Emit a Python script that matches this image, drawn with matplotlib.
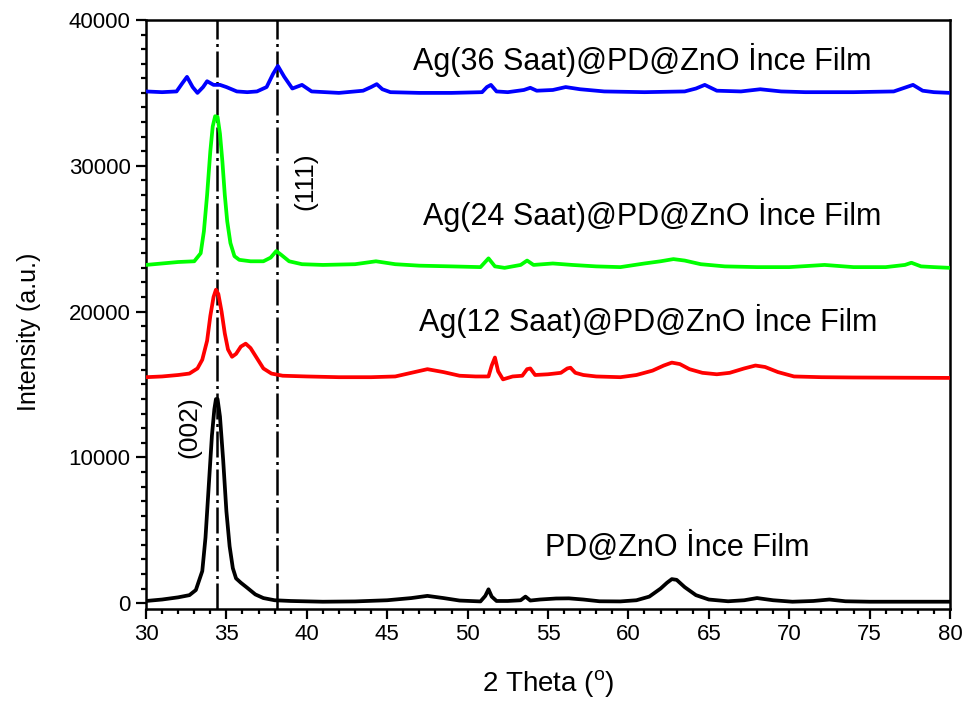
import matplotlib
matplotlib.use("Agg")
import matplotlib.pyplot as plt
from matplotlib.ticker import MultipleLocator

plt.rcParams['font.family'] = ['Liberation Sans', 'DejaVu Sans']
plt.rcParams['mathtext.fontset'] = 'custom'
plt.rcParams['mathtext.rm'] = 'Liberation Sans'

# ---- data ----
x_pd = [30, 31, 32, 32.7, 33.1, 33.5, 33.7, 33.9, 34.1, 34.25, 34.35, 34.45, 34.6, 34.8, 35.0, 35.2, 35.4,
        35.6, 35.9, 36.3, 36.8, 37.3, 38.0, 39, 41, 43, 45, 46.5, 47.5, 48.5, 49.5, 50.8, 51.1, 51.3, 51.5,
        51.8, 52.5, 53.3, 53.6, 53.9, 54.5, 55.5, 56.3, 57.2, 58.2, 59.5, 60.5, 61.3, 62.0, 62.4, 62.7,
        63.0, 63.5, 64.2, 65.0, 66.2, 67.2, 68.0, 69.0, 70.2, 71.5, 72.5, 73.5, 75, 77, 80]
y_pd = [150, 250, 400, 550, 900, 2200, 4500, 8000, 11500, 13300, 14000, 14000, 12800, 9800, 6300, 3900, 2400,
        1700, 1400, 1050, 600, 350, 200, 150, 100, 120, 200, 350, 500, 350, 180, 120, 500, 950, 450,
        150, 150, 200, 450, 180, 250, 320, 330, 250, 130, 120, 200, 450, 1000, 1400, 1650,
        1600, 1100, 550, 250, 130, 200, 350, 200, 100, 150, 250, 130, 100, 100, 100]

x_12 = [30, 31, 32, 32.7, 33.2, 33.5, 33.8, 34.0, 34.2, 34.35, 34.5, 34.7, 34.9, 35.1, 35.35, 35.6, 35.9,
        36.2, 36.5, 36.9, 37.3, 37.8, 38.5, 40, 42, 44, 45.5, 46.5, 47.5, 48.5, 49.5, 50.5, 51.3, 51.5,
        51.7, 51.9, 52.2, 52.8, 53.4, 53.7, 53.9, 54.2, 55.0, 55.8, 56.2, 56.4, 56.7, 57.2, 58.0, 59.5,
        60.5, 61.5, 62.2, 62.7, 63.2, 63.8, 64.6, 65.5, 66.3, 67.2, 67.9, 68.5, 69.3, 70.3, 72, 74, 76,
        78, 80]
y_12 = [15500, 15550, 15650, 15750, 16100, 16700, 18000, 19700, 21000, 21500, 21200, 20000, 18500, 17400,
        16900, 17100, 17600, 17800, 17500, 16800, 16100, 15750, 15600, 15550, 15500, 15500, 15550, 15800,
        16050, 15850, 15600, 15550, 15550, 16300, 16850, 15900, 15350, 15550, 15600, 16050, 16100, 15650,
        15700, 15800, 16100, 16150, 15800, 15650, 15550, 15500, 15650, 15950, 16300, 16500, 16400, 16050,
        15800, 15700, 15800, 16100, 16300, 16200, 15850, 15550, 15500, 15480, 15470, 15460, 15450]

x_24 = [30, 31, 32, 33, 33.4, 33.6, 33.8, 34.0, 34.15, 34.3, 34.45, 34.6, 34.75, 34.9, 35.05, 35.25,
        35.5, 35.8, 36.5, 37.3, 37.75, 38.1, 38.4, 38.9, 39.7, 41, 43, 44.3, 45.5, 47, 49, 50.8, 51.3,
        51.7, 52.3, 53.3, 53.7, 54.1, 55.3, 56.5, 58, 59.5, 61, 62, 62.8, 63.5, 64.5, 66, 68, 70, 72.2,
        74, 76, 77.2, 77.6, 78.2, 79, 80]
y_24 = [23200, 23300, 23400, 23450, 24000, 25500, 28000, 31000, 32700, 33400, 33350, 32200, 30300, 28000,
        26200, 24700, 23800, 23550, 23450, 23450, 23700, 24150, 23900, 23450, 23250, 23200, 23250, 23450,
        23250, 23150, 23100, 23050, 23650, 23100, 23000, 23200, 23500, 23200, 23300, 23200, 23100, 23050,
        23300, 23450, 23600, 23500, 23250, 23100, 23050, 23050, 23200, 23050, 23050, 23200, 23350, 23100,
        23050, 23000]

x_36 = [30, 31, 31.9, 32.25, 32.55, 32.9, 33.2, 33.55, 33.8, 34.2, 34.6, 35.0, 35.65, 36.3, 36.9, 37.5,
        37.9, 38.2, 38.6, 39.1, 39.7, 40.3, 42, 43.5, 44.0, 44.35, 44.7, 45.2, 47, 49, 50.9, 51.2, 51.45,
        51.8, 52.5, 53.5, 53.9, 54.3, 55.3, 56.1, 57.0, 58.5, 61, 63.5, 64.2, 64.75, 65.5, 67, 68.2, 69.5,
        71, 74, 76.5, 77.3, 77.7, 78.3, 79, 80]
y_36 = [35100, 35050, 35100, 35650, 36100, 35400, 35000, 35400, 35800, 35550, 35550, 35400, 35100, 35050,
        35100, 35400, 36300, 36850, 36100, 35300, 35550, 35100, 35000, 35150, 35400, 35600, 35250, 35050,
        35000, 35000, 35050, 35400, 35550, 35100, 35050, 35200, 35350, 35150, 35200, 35400, 35250, 35100,
        35050, 35100, 35300, 35550, 35150, 35100, 35250, 35100, 35050, 35050, 35100, 35400, 35550, 35150,
        35050, 35000]

labels = ["PD@ZnO İnce Film", "Ag(12 Saat)@PD@ZnO İnce Film",
          "Ag(24 Saat)@PD@ZnO İnce Film", "Ag(36 Saat)@PD@ZnO İnce Film"]
peak_lines = [34.4, 38.15]
peak_labels = ["(002)", "(111)"]

# ---- figure ----
fig = plt.figure(figsize=(9.68, 7.09), dpi=100)
ax = fig.add_axes([146/968, 1-609/709, (950-146)/968, (609-20)/709])

for xv in peak_lines:
    ax.axvline(xv, color='black', lw=1.8, linestyle=(0, (10.4, 1.8, 1.2, 1.8)), zorder=1)

lw = 2.7
ax.plot(x_pd, y_pd, color='black', lw=lw, zorder=3)
ax.plot(x_12, y_12, color='#ff0000', lw=lw, zorder=3)
ax.plot(x_24, y_24, color='#00ff00', lw=lw, zorder=3)
ax.plot(x_36, y_36, color='#0000ff', lw=lw, zorder=3)

fs_ann = 22
ax.text(54.8, 3840, labels[0], fontsize=fs_ann, ha='left', va='center')
ax.text(47.0, 19340, labels[1], fontsize=fs_ann, ha='left', va='center')
ax.text(47.2, 26610, labels[2], fontsize=fs_ann, ha='left', va='center')
ax.text(46.6, 37240, labels[3], fontsize=fs_ann, ha='left', va='center')
ax.text(32.7, 12070, peak_labels[0], fontsize=19, rotation=90, ha='center', va='center')
ax.text(39.9, 28940, peak_labels[1], fontsize=19, rotation=90, ha='center', va='center')

ax.set_xlim(30, 80)
ax.set_ylim(-400, 40000)
ax.xaxis.set_major_locator(MultipleLocator(5))
ax.xaxis.set_minor_locator(MultipleLocator(1))
ax.yaxis.set_major_locator(MultipleLocator(10000))
ax.yaxis.set_minor_locator(MultipleLocator(1000))
ax.tick_params(which='both', direction='out', width=1.6, top=False, right=False)
ax.tick_params(which='major', length=7, labelsize=16, pad=4)
ax.tick_params(which='minor', length=3.5)
for s in ax.spines.values():
    s.set_linewidth(1.8)

ax.set_xlabel('2 Theta ($^{\\rm o}$)', fontsize=20)
ax.set_ylabel('Intensity (a.u.)', fontsize=18)
ax.yaxis.set_label_coords(-0.13, 0.47)
ax.xaxis.set_label_coords(0.5, -0.1)

fig.savefig('out.png', dpi=100)
